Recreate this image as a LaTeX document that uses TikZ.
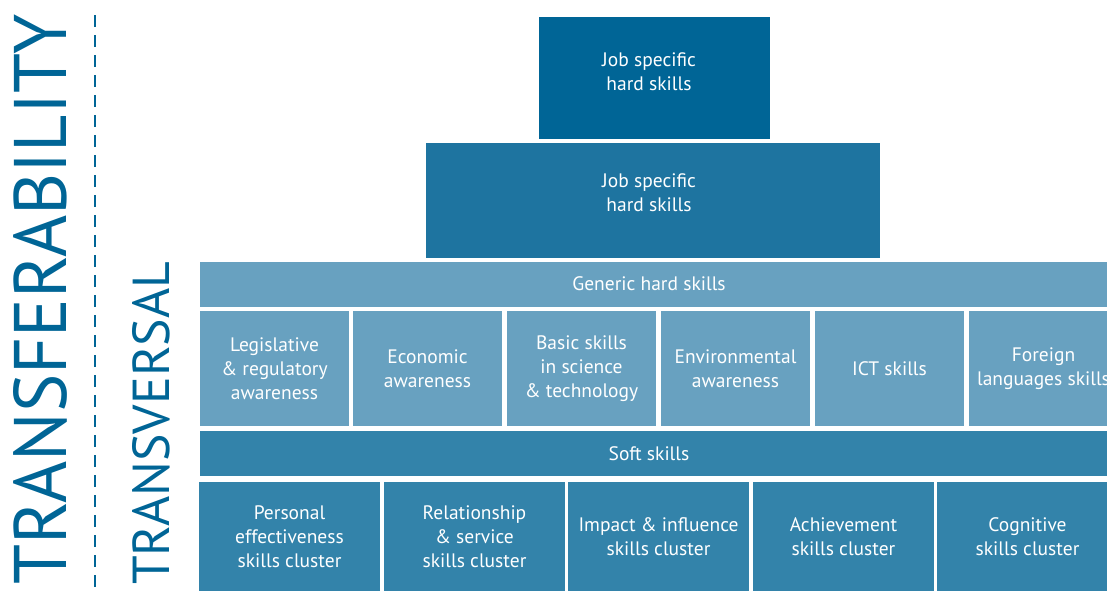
\documentclass[tikz,border=0pt]{standalone}
\usepackage{fontspec}
\setsansfont{PT Sans}
\usepackage{graphicx}
\definecolor{topblue}{RGB}{0,101,150}
\definecolor{jobblue}{RGB}{30,116,160}
\definecolor{hardblue}{RGB}{104,161,192}
\definecolor{softblue}{RGB}{51,131,170}
\begin{document}
\begin{tikzpicture}[x=1pt,y=-1pt,
  skillbox/.style={rectangle,inner sep=0pt,text=white,align=center,
    font=\sffamily\fontsize{19.5}{24}\selectfont},
  hardbox/.style={skillbox,fill=hardblue,minimum width=149pt,minimum height=115pt},
  softbox/.style={skillbox,fill=softblue,minimum width=181pt,minimum height=110pt}]
\useasboundingbox (0,0) rectangle (1107,590);
\clip (0,0) rectangle (1107,590);

% axis labels
\node[rotate=90,anchor=south west,inner sep=0pt,text=topblue] (transfer) at (68,585)
  {\resizebox{570pt}{53pt}{\sffamily TRANSFERABILITY}};
\draw[topblue,line width=2pt,dash pattern=on 12pt off 8pt] (95,15) -- (95,590);
\node[rotate=90,anchor=south west,inner sep=0pt,text=topblue] (transv) at (170,585)
  {\resizebox{323pt}{37pt}{\sffamily TRANSVERSAL}};

% pyramid top
\node[skillbox,fill=topblue,minimum width=231pt,minimum height=122pt] (jobtop) at (654.5,78) {};
\node[skillbox] (jobtoptxt) at (649,72) {Job specific\\hard skills};
\node[skillbox,fill=jobblue,minimum width=454pt,minimum height=115pt] (jobmid) at (653,200.5) {};
\node[skillbox] (jobmidtxt) at (649,193) {Job specific\\hard skills};

% generic hard skills
\node[skillbox,fill=hardblue,minimum width=918pt,minimum height=45pt] (generic) at (659,284.5) {};
\node[skillbox] (generictxt) at (649,284) {Generic hard skills};
\node[hardbox] (legis) at (274.5,368.5) {Legislative\\\& regulatory\\awareness};
\node[hardbox] (econ) at (427.5,368.5) {Economic\\awareness};
\node[hardbox] (basic) at (581.5,368.5) {Basic skills\\in science\\\& technology};
\node[hardbox] (envir) at (735.5,368.5) {Environmental\\awareness};
\node[hardbox] (ict) at (889.5,368.5) {ICT skills};
\node[hardbox] (foreign) at (1043.5,368.5) {Foreign\\languages skills};

% soft skills
\node[skillbox,fill=softblue,minimum width=918pt,minimum height=45pt] (soft) at (659,453.5) {};
\node[skillbox] (softtxt) at (649,454) {Soft skills};
\node[softbox] (personal) at (289.5,537) {Personal\\effectiveness\\skills cluster};
\node[softbox] (relation) at (474.5,537) {Relationship\\\& service\\skills cluster};
\node[softbox] (impact) at (658.5,537) {Impact \& influence\\skills cluster};
\node[softbox] (achieve) at (843.5,537) {Achievement\\skills cluster};
\node[softbox] (cognit) at (1027.5,537) {Cognitive\\skills cluster};
\end{tikzpicture}
\end{document}
